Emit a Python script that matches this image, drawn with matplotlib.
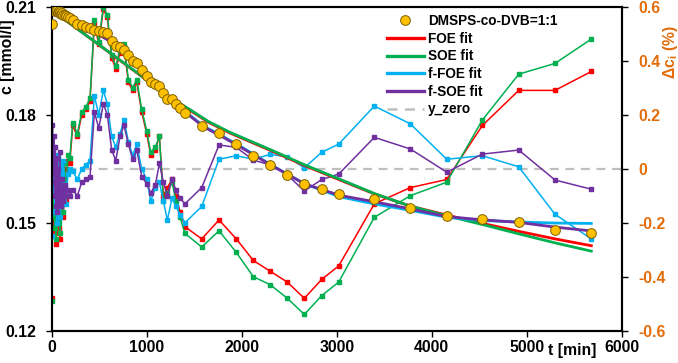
import matplotlib
matplotlib.use('Agg')
import matplotlib.pyplot as plt
from matplotlib.lines import Line2D

plt.rcParams['font.family'] = ['Liberation Sans', 'DejaVu Sans']
plt.rcParams['font.weight'] = 'bold'
plt.rcParams['mathtext.fontset'] = 'custom'
plt.rcParams['mathtext.bf'] = 'Liberation Sans:bold'
plt.rcParams['mathtext.rm'] = 'Liberation Sans:bold'

# experimental data (time in min, concentration in mmol/l)
t_exp = [0, 8, 15, 22, 30, 38, 45, 53, 60, 68, 75, 83, 90, 100, 110, 122, 135, 150, 170, 190,
         221, 270, 316, 361, 403, 449, 495, 543, 585, 631, 674, 719, 761, 807, 852, 895, 947,
         1000, 1042, 1091, 1133, 1175, 1217, 1266, 1308, 1351, 1403,
         1579, 1761, 1943, 2122, 2301, 2480, 2659, 2842, 3021, 3396, 3775, 4158, 4533, 4916, 5298, 5680]
c_exp = [0.2052, 0.2094, 0.2096, 0.2092, 0.2094, 0.2089, 0.2091, 0.2087, 0.2090, 0.2085, 0.2087, 0.2083,
         0.2085, 0.2081, 0.2082, 0.2078, 0.2076, 0.2074, 0.2071, 0.2068,
         0.2063, 0.2052, 0.2048, 0.2044, 0.2040, 0.2035, 0.2033, 0.2029, 0.2026, 0.2005, 0.1991, 0.1989,
         0.1980, 0.1966, 0.1950, 0.1944, 0.1924, 0.1907, 0.1892, 0.1885, 0.1880, 0.1861, 0.1844, 0.1843,
         0.1831, 0.1818, 0.1804,
         0.1768, 0.1750, 0.1718, 0.1685, 0.1659, 0.1632, 0.1607, 0.1593, 0.1581, 0.1567, 0.1542, 0.1518,
         0.1510, 0.1501, 0.1481, 0.1471]

# fitted curves
t_foe = [0, 220, 980, 1100, 1250, 1456, 1650, 1877, 2088, 2300, 2659, 3030, 3396, 3775, 4158, 4533, 4916, 5298, 5680]
c_foe = [0.2090, 0.2048, 0.1900, 0.1876, 0.1846, 0.1812, 0.1779, 0.1749, 0.1725, 0.1701, 0.1659, 0.1619,
         0.1580, 0.1546, 0.1521, 0.1498, 0.1476, 0.1455, 0.1436]
c_soe = [0.2090, 0.2048, 0.1901, 0.1877, 0.1847, 0.1814, 0.1781, 0.1751, 0.1727, 0.1703, 0.1661, 0.1621,
         0.1581, 0.1546, 0.1519, 0.1495, 0.1469, 0.1444, 0.1421]
t_ffit = [0, 100, 220, 400, 600, 800, 1000, 1200, 1400, 1600, 1800, 2000, 2300, 2660, 3030, 3400,
          3780, 4160, 4530, 4910, 5290, 5680]
c_ffoe = [0.2092, 0.2080, 0.2062, 0.2038, 0.2010, 0.1972, 0.1912, 0.1854, 0.1810, 0.1768, 0.1740, 0.1710,
          0.1662, 0.1608, 0.1572, 0.1552, 0.1534, 0.1515, 0.1506, 0.1502, 0.1499, 0.1498]
c_fsoe = [0.2092, 0.2079, 0.2060, 0.2036, 0.2006, 0.1968, 0.1910, 0.1852, 0.1808, 0.1766, 0.1738, 0.1708,
          0.1661, 0.1608, 0.1576, 0.1558, 0.1538, 0.1517, 0.1508, 0.1501, 0.1488, 0.1477]

# residuals (%) at the experimental times
r_foe = [-0.48, -0.08, -0.20, 0.01, -0.24, -0.12, -0.28, -0.07, -0.17, 0.02, -0.22, -0.10, -0.26, -0.14,
         -0.04, -0.18, 0.00, -0.12, 0.03, 0.02,
         0.16, 0.12, 0.20, 0.22, 0.25, 0.54, 0.46, 0.59, 0.56, 0.41, 0.37, 0.43, 0.45, 0.32, 0.29, 0.32,
         0.21, 0.13, 0.05, 0.07, 0.12, -0.10, -0.07, -0.04, -0.10, -0.16, -0.215,
         -0.26, -0.19, -0.26, -0.34, -0.38, -0.42, -0.48, -0.41, -0.36, -0.13, -0.07, -0.04,
         0.16, 0.29, 0.29, 0.36]
r_soe = [-0.49, -0.06, -0.18, 0.03, -0.22, -0.10, -0.26, -0.05, -0.15, 0.04, -0.20, -0.08, -0.24, -0.12,
         -0.02, -0.16, 0.02, -0.10, 0.05, 0.04,
         0.17, 0.13, 0.21, 0.23, 0.26, 0.55, 0.47, 0.60, 0.57, 0.42, 0.38, 0.44, 0.46, 0.33, 0.30, 0.33,
         0.22, 0.14, 0.06, 0.08, 0.12, -0.12, -0.09, -0.05, -0.12, -0.18, -0.24,
         -0.29, -0.23, -0.31, -0.40, -0.43, -0.48, -0.54, -0.47, -0.42, -0.18, -0.10, -0.05,
         0.18, 0.35, 0.39, 0.48]
r_ffoe = [-0.25, 0.04, -0.10, 0.08, -0.05, -0.16, 0.02, -0.20, -0.06, 0.05, -0.12, -0.02, -0.18, 0.01,
          -0.09, 0.03, -0.06, -0.13, -0.02, 0.00,
          -0.01, -0.04, 0.00, 0.015, 0.03, 0.27, 0.20, 0.29, 0.24, 0.12, 0.08, 0.13, 0.18, 0.10, 0.05, 0.09,
          0.00, -0.04, -0.12, -0.07, -0.05, -0.12, -0.19, -0.11, -0.14, -0.17, -0.20,
          -0.14, 0.035, 0.048, 0.035, 0.053, 0.044, 0.003, 0.061, 0.091, 0.232, 0.166, 0.035,
          0.048, 0.007, -0.169, -0.26]
r_fsoe = [-0.05, 0.16, -0.02, 0.12, -0.10, 0.08, -0.14, 0.04, -0.16, 0.00, -0.12, 0.06, -0.08, -0.14,
          -0.04, -0.12, -0.06, -0.10, -0.08, -0.10,
          -0.08, -0.10, -0.05, -0.04, -0.03, 0.21, 0.15, 0.24, 0.20, 0.07, 0.03, 0.12, 0.16, 0.09, 0.035, 0.07,
          -0.03, -0.055, -0.09, -0.06, 0.02, -0.05, -0.10, -0.04, -0.08, -0.11, -0.13,
          -0.07, 0.088, 0.079, 0.032, 0.014, -0.023, -0.083, -0.04, -0.02, 0.116, 0.073, -0.013,
          0.054, 0.069, -0.042, -0.076]

RED, GREEN, BLUE, PURPLE = '#FF0000', '#00B050', '#00B0F0', '#7030A0'
ORANGE = '#E36C09'

fig = plt.figure(figsize=(6.78, 3.63), dpi=100)
ax = fig.add_axes([0.0763, 0.089, 0.8407, 0.8926])
ax2 = ax.twinx()
ax.set_zorder(ax2.get_zorder() + 1)
ax.patch.set_visible(False)

# residuals on the right axis
ax2.axhline(0, color='#BFBFBF', lw=1.6, ls=(0, (4, 3)), zorder=1)
for r, col in [(r_foe, RED), (r_soe, GREEN), (r_ffoe, BLUE), (r_fsoe, PURPLE)]:
    ax2.plot(t_exp, r, color=col, lw=1.1, marker='s', ms=2.2, mec=col, zorder=2)

# fits and data on the left axis
ax.plot(t_foe, c_foe, color=RED, lw=2, zorder=3)
ax.plot(t_foe, c_soe, color=GREEN, lw=2, zorder=3)
ax.plot(t_ffit, c_ffoe, color=BLUE, lw=2, zorder=3)
ax.plot(t_ffit, c_fsoe, color=PURPLE, lw=2, zorder=3)
ax.plot(t_exp, c_exp, 'o', ms=7, mfc='#FFC000', mec='#7F6000', mew=0.7, zorder=4)

ax.set_xlim(0, 6000)
ax.set_ylim(0.12, 0.21)
ax2.set_ylim(-0.6, 0.6)
ax.set_xticks([0, 1000, 2000, 3000, 4000, 5000, 6000])
ax.set_yticks([0.12, 0.15, 0.18, 0.21])
ax.set_yticklabels(['0.12', '0.15', '0.18', '0.21'])
ax2.set_yticks([-0.6, -0.4, -0.2, 0, 0.2, 0.4, 0.6])
ax2.set_yticklabels(['-0.6', '-0.4', '-0.2', '0', '0.2', '0.4', '0.6'])

ax.tick_params(axis='both', direction='out', length=4, width=1, labelsize=11.3, pad=7)
ax.tick_params(axis='x', pad=3)
ax2.tick_params(axis='y', direction='out', length=4, width=1, labelsize=11.3, pad=8, labelcolor=ORANGE)
for a in (ax, ax2):
    for s in a.spines.values():
        s.set_linewidth(1.5)
        s.set_color('black')

fig.text(8 / 678, 1 - 57 / 363, 'c [mmol/l]', rotation=90, ha='center', va='center',
         fontsize=11.3, fontweight='bold')
fig.text(670 / 678, 1 - 52 / 363, r'Δc$_\mathbf{i}$ (%)', rotation=90, ha='center', va='center',
         fontsize=11.3, fontweight='bold', color=ORANGE)
fig.text(572 / 678, 1 - 350 / 363, 't [min]', ha='center', va='center', fontsize=11.3, fontweight='bold')

handles = [
    Line2D([], [], ls='none', marker='o', ms=7, mfc='#FFC000', mec='#7F6000', mew=0.7),
    Line2D([], [], color=RED, lw=2.4),
    Line2D([], [], color=GREEN, lw=2.4),
    Line2D([], [], color=BLUE, lw=2.4),
    Line2D([], [], color=PURPLE, lw=2.4),
    Line2D([], [], color='#BFBFBF', lw=1.8, ls=(0, (4, 3))),
]
labels = ['DMSPS-co-DVB=1:1', 'FOE fit', 'SOE fit', 'f-FOE fit', 'f-SOE fit', 'y_zero']
fig.legend(handles, labels, loc='upper left', bbox_to_anchor=(387 / 678, 1 - 14 / 363),
           frameon=False, handlelength=2.7, handletextpad=0.3,
           labelspacing=0.27, borderpad=0, borderaxespad=0,
           prop={'weight': 'bold', 'size': 9.8})

fig.savefig('out.png', dpi=100)
